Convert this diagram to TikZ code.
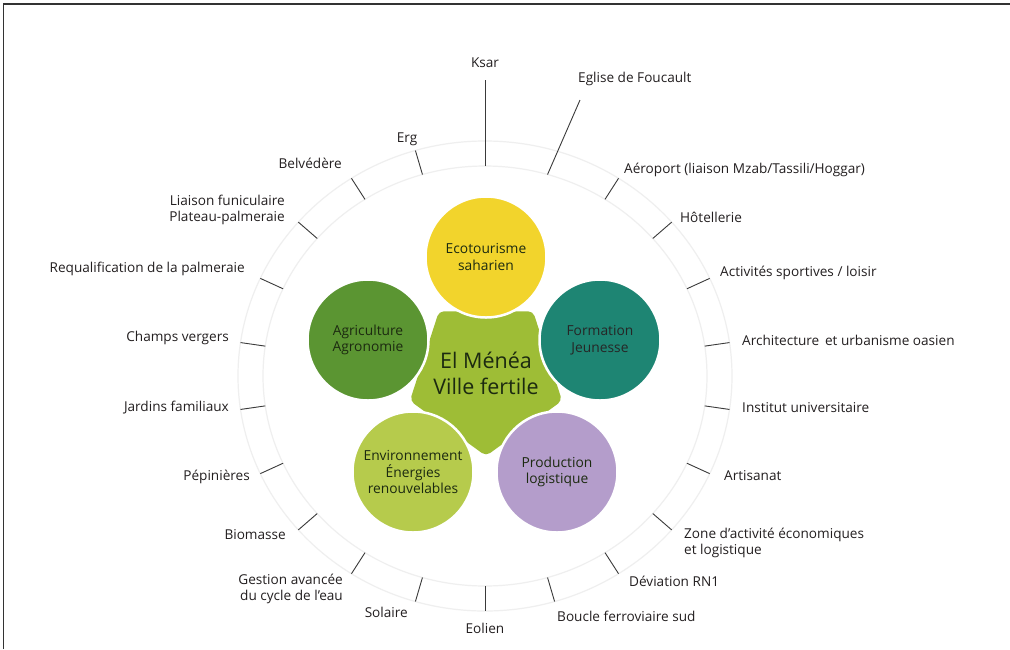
\documentclass[tikz,border=0pt]{standalone}
\usepackage{fontspec}
\setmainfont{Open Sans}
\definecolor{labeltext}{HTML}{231F20}
\definecolor{tickgray}{HTML}{3A3A3A}
\definecolor{ringgray}{HTML}{EFEFEF}
\definecolor{ecoyellow}{HTML}{F2D42C}
\definecolor{formteal}{HTML}{1E8573}
\definecolor{agrigreen}{HTML}{5B9532}
\definecolor{envgreen}{HTML}{B6CB4C}
\definecolor{prodlav}{HTML}{B49DCB}
\definecolor{pentgreen}{HTML}{9EBD36}
\definecolor{darktext}{HTML}{1C2A10}
\begin{document}
\begin{tikzpicture}[x=1pt,y=-1pt,
  lbl/.style={font=\fontsize{13.6}{16.5}\selectfont, text=labeltext, inner sep=0pt},
  tickline/.style={draw=tickgray, line width=0.9pt},
  ring/.style={draw=ringgray, line width=1.2pt},
  frameline/.style={draw=black!80, line width=1.6pt},
  theme/.style={circle, minimum size=121pt, draw=white, line width=2.5pt, align=center,
    font=\fontsize{13.8}{16.5}\selectfont, inner sep=0pt, text=darktext}]
\useasboundingbox (0,0) rectangle (1010,649);
\fill[white] (0,0) rectangle (1010,649);
\draw[frameline] (3.5,649) -- (3.5,4) -- (1010,4);

% rings
\coordinate (C) at (485,376);
\draw[ring] (C) ellipse [x radius=222pt, y radius=210pt];
\draw[ring] (C) ellipse [x radius=247pt, y radius=235pt];

% tick coordinates
\foreach \i in {0,...,21} {
  \pgfmathsetmacro\ang{90-\i*360/22}
  \coordinate (ti\i) at ({485+222*cos(\ang)},{376-210*sin(\ang)});
  \coordinate (to\i) at ({485+247*cos(\ang)},{376-235*sin(\ang)});
}
\coordinate (ksartop) at (485,80);
\coordinate (eglisetop) at (580,100);
\draw[tickline] (ti0) -- (ksartop);
\draw[tickline] (ti1) -- (eglisetop);
\foreach \i in {2,...,21} \draw[tickline] (ti\i) -- (to\i);

% labels
\node[lbl] (ksar) at (485,63) {Ksar};
\node[lbl, anchor=west] (eglise) at (578,79) {Eglise de Foucault};
\node[lbl, anchor=west] (aero) at (624,170) {Aéroport (liaison Mzab/Tassili/Hoggar)};
\node[lbl, anchor=west] (hotel) at (680,217) {Hôtellerie};
\node[lbl, anchor=west] (sport) at (720,273) {Activités sportives / loisir};
\node[lbl, anchor=west] (archi) at (742,340) {Architecture\, et urbanisme oasien};
\node[lbl, anchor=west] (inst) at (742,408) {Institut universitaire};
\node[lbl, anchor=west] (artis) at (724,476) {Artisanat};
\node[lbl, anchor=west, align=left] (zone) at (684,543) {Zone d’activité économiques\\et logistique};
\node[lbl, anchor=west] (devia) at (629,581) {Déviation RN1};
\node[lbl, anchor=west] (boucle) at (557,616) {Boucle ferroviaire sud};
\node[lbl] (eolien) at (485,628) {Eolien};
\node[lbl, anchor=east] (solaire) at (408,612) {Solaire};
\node[lbl, anchor=east, align=right] (gestion) at (343,589) {Gestion avancée\\du cycle de l’eau};
\node[lbl, anchor=east] (biom) at (286,535) {Biomasse};
\node[lbl, anchor=east] (pepi) at (250,477) {Pépinières};
\node[lbl, anchor=east] (jardins) at (229,408) {Jardins familiaux};
\node[lbl, anchor=east] (champs) at (229,338) {Champs vergers};
\node[lbl, anchor=east] (requal) at (245,269) {Requalification de la palmeraie};
\node[lbl, anchor=east, align=right] (liaison) at (285,210) {Liaison funiculaire\\Plateau-palmeraie};
\node[lbl, anchor=east] (belv) at (342,163) {Belvédère};
\node[lbl] (erg) at (407,139) {Erg};

% central pentagon
\coordinate (p1) at ({486+80*cos(54)},{376-80*sin(54)});
\coordinate (p2) at ({486+80*cos(126)},{376-80*sin(126)});
\coordinate (p3) at ({486+80*cos(198)},{376-80*sin(198)});
\coordinate (p4) at ({486+80*cos(270)},{376-80*sin(270)});
\coordinate (p5) at ({486+80*cos(342)},{376-80*sin(342)});
\fill[pentgreen, rounded corners=5pt] (p1) -- (p2) -- (p3) -- (p4) -- (p5) -- cycle;

% theme circles
\node[theme, fill=ecoyellow] (eco) at (486,257) {Ecotourisme\\saharien};
\node[theme, fill=formteal, text=black!85] (form) at (600,340) {Formation\\Jeunesse};
\node[theme, fill=prodlav] (prod) at (557,472) {Production\\logistique};
\node[theme, fill=envgreen] (env) at (413,472) {Environnement\\Énergies\\renouvelables};
\node[theme, fill=agrigreen] (agri) at (368,340) {Agriculture\\Agronomie};

\node[font=\fontsize{21.5}{26}\selectfont, text=darktext, align=center] (centre) at (486,373) {El Ménéa\\Ville fertile};
\end{tikzpicture}
\end{document}
